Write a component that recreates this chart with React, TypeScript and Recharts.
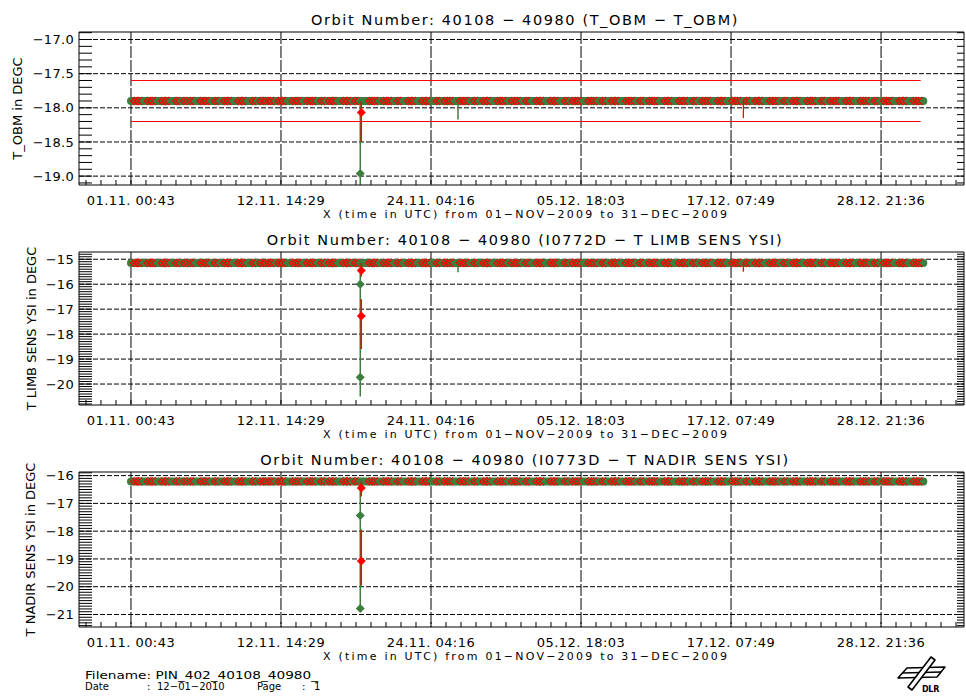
import React from "react";
import { ComposedChart, Line, XAxis, YAxis, CartesianGrid, ReferenceLine } from "recharts";

const FONT = "'DejaVu Sans', sans-serif";
const GREEN = "#3d7d3d";
const RED = "#ff0000";

const CHART_W = 966;
const PLOT_LEFT = 79;
const PLOT_RIGHT = CHART_W - 2;

// time axis in days since 01.11.2009 00:00 UTC
const timeTicks = [0.03, 11.6035, 23.178, 34.7521, 46.326, 57.9];
const timeLabels = ["01.11. 00:43", "12.11. 14:29", "24.11. 04:16", "05.12. 18:03", "17.12. 07:49", "28.12. 21:36"];
const timeDomain: [number, number] = [-3.98, 64.3];
const xTitle = "X (time in UTC) from 01\u2212NOV\u22122009 to 31\u2212DEC\u22122009";

const bandSpan = [0.03, 61.16];
const limitSpan = [0.03, 60.96];
const spikeDay = 17.72;
const greenDipDay = 25.26;
const redDipDay = 47.28;

// orbits flagged in red along the band
const redMarkDays = [
  0.15, 0.5, 1.2, 1.55, 2.3, 2.6, 3.4, 4.0, 4.5, 5.3, 5.7, 6.4, 7.1, 7.4, 8.2, 8.5, 9.3, 9.9,
  10.3, 10.7, 11.3, 11.6, 12.4, 12.8, 13.5, 13.9, 14.6, 15.2, 15.5, 16.3, 16.6, 17.2, 18.3,
  18.7, 19.4, 19.8, 20.5, 21.3, 21.6, 22.4, 22.7, 23.5, 24.1, 24.5, 25.3, 25.7, 26.4, 27.1,
  27.4, 28.2, 28.6, 29.3, 29.7, 30.4, 31.2, 31.5, 32.3, 32.6, 33.4, 34.0, 34.4, 35.2, 35.6,
  36.3, 37.0, 37.3, 38.1, 38.5, 39.2, 39.9, 40.3, 41.1, 41.4, 42.2, 42.6, 43.3, 44.0, 44.4,
  45.2, 45.5, 46.3, 46.7, 47.4, 48.1, 48.4, 49.2, 49.6, 50.3, 51.0, 51.3, 52.1, 52.5, 53.2,
  53.9, 54.3, 55.1, 55.4, 56.2, 56.6, 57.3, 58.0, 58.4, 59.2, 59.5, 60.3, 60.7,
];

// T_OBM
const obmBand = -17.9;
const obmLimits = [-17.6, -18.2];
const obmGreenSpike = [-17.9, -18.96, -19.4];
const obmGreenDots = [-18.96];
const obmRedSpike = [[-17.9, -18.5]];
const obmRedDots = [-18.07];
const obmDips = [-18.17, -18.15];

// I0772D - T LIMB SENS YSI
const limbBand = -15.15;
const limbGreenSpike = [-15.15, -16.0, -19.73, -20.5];
const limbGreenDots = [-16.0, -19.73];
const limbRedSpike = [[-15.15, -15.7], [-16.6, -17.27, -18.6]];
const limbRedDots = [-15.45, -17.27];
const limbDips = [-15.52, -15.5];

// I0773D - T NADIR SENS YSI
const nadirBand = -16.21;
const nadirGreenSpike = [-16.21, -17.44, -20.78];
const nadirGreenDots = [-17.44, -20.78];
const nadirRedSpike = [[-16.21, -16.75], [-17.94, -19.07, -19.96]];
const nadirRedDots = [-16.45, -19.07];

type PanelCfg = {
  id: string;
  top: number;
  height: number;
  title: string;
  yTitle: string;
  yTitleX: number;
  yDomain: [number, number];
  yTicks: number[];
  yDecimals: number;
  band: number;
  limits: number[];
  greenSpike: number[];
  greenDots: number[];
  redSpike: number[][];
  redDots: number[];
  dips: number[];
};

const panels: PanelCfg[] = [
  {
    id: "obm", top: 32, height: 153,
    title: "Orbit Number: 40108 \u2212 40980 (T_OBM \u2212 T_OBM)",
    yTitle: "T_OBM in DEGC", yTitleX: 17,
    yDomain: [-19.13, -16.89], yTicks: [-19.0, -18.5, -18.0, -17.5, -17.0], yDecimals: 1,
    band: obmBand, limits: obmLimits, greenSpike: obmGreenSpike, greenDots: obmGreenDots,
    redSpike: obmRedSpike, redDots: obmRedDots, dips: obmDips,
  },
  {
    id: "limb", top: 252, height: 153,
    title: "Orbit Number: 40108 \u2212 40980 (I0772D \u2212 T LIMB SENS YSI)",
    yTitle: "T LIMB SENS YSI in DEGC", yTitleX: 31,
    yDomain: [-20.84, -14.71], yTicks: [-20, -19, -18, -17, -16, -15], yDecimals: 0,
    band: limbBand, limits: [], greenSpike: limbGreenSpike, greenDots: limbGreenDots,
    redSpike: limbRedSpike, redDots: limbRedDots, dips: limbDips,
  },
  {
    id: "nadir", top: 472, height: 155,
    title: "Orbit Number: 40108 \u2212 40980 (I0773D \u2212 T NADIR SENS YSI)",
    yTitle: "T NADIR SENS YSI in DEGC", yTitleX: 30,
    yDomain: [-21.45, -15.87], yTicks: [-21, -20, -19, -18, -17, -16], yDecimals: 0,
    band: nadirBand, limits: [], greenSpike: nadirGreenSpike, greenDots: nadirGreenDots,
    redSpike: nadirRedSpike, redDots: nadirRedDots, dips: [],
  },
];

// ten minor intervals per labelled time step
const minorStep = (timeTicks[1] - timeTicks[0]) / 10;
const minorTimeTicks: number[] = [];
for (let k = -3; timeTicks[0] + k * minorStep < timeDomain[1]; k++) {
  minorTimeTicks.push(timeTicks[0] + k * minorStep);
}

function minorValueTicks([lo, hi]: [number, number]) {
  const out: number[] = [];
  for (let k = Math.ceil(lo * 10); k <= Math.floor(hi * 10); k++) out.push(k / 10);
  return out;
}

const near = (a: number, b: number) => Math.abs(a - b) < 0.01;
const minus = (s: string) => s.replace("-", "\u2212");
const noLabel = () => <g />;

function diamond(color: string, r: number) {
  return (props: any) => {
    const { cx, cy, index } = props;
    if (cx == null || cy == null) return <g key={index} />;
    return (
      <path key={index} d={`M${cx},${cy - r}L${cx + r},${cy}L${cx},${cy + r}L${cx - r},${cy}Z`} fill={color} />
    );
  };
}

// double "<" marks drawn over the green band
function chevron(props: any) {
  const { cx, cy, index } = props;
  if (cx == null || cy == null) return <g key={index} />;
  return (
    <path key={index}
      d={`M${cx + 2},${cy - 4}L${cx - 2},${cy}L${cx + 2},${cy + 4}M${cx + 5},${cy - 4}L${cx + 1},${cy}L${cx + 5},${cy + 4}`}
      stroke={RED} strokeWidth={1.2} fill="none" />
  );
}

const at = (day: number, vals: number[]) => vals.map((v) => ({ d: day, v }));

function Panel({ cfg }: { cfg: PanelCfg }) {
  const axisIds = { xAxisId: "main", yAxisId: "main" };
  const common = { ...axisIds, dataKey: "v", isAnimationActive: false, activeDot: false as const };
  const timeLabel = (v: number) => {
    const i = timeTicks.findIndex((t) => near(t, v));
    return i >= 0 ? timeLabels[i] : "";
  };
  const valueLabel = (v: number) => minus(v.toFixed(cfg.yDecimals));
  return (
    <div style={{ position: "absolute", left: 0, top: cfg.top - 4 }}>
      <ComposedChart width={CHART_W} height={cfg.height + 34} margin={{ top: 3, right: 0, bottom: 0, left: 0 }}>
        <CartesianGrid {...axisIds} horizontal={false} verticalValues={timeTicks}
          stroke="#000" strokeDasharray="12 2" />
        <CartesianGrid {...axisIds} vertical={false} horizontalValues={cfg.yTicks}
          stroke="#000" strokeDasharray="5 2" />
        <XAxis xAxisId="main" dataKey="d" type="number" domain={timeDomain} allowDataOverflow
          ticks={minorTimeTicks} interval={0} tickFormatter={timeLabel}
          tickLine={{ stroke: "#000" }} tickSize={-5} tickMargin={16} height={30} axisLine={{ stroke: "#000" }}
          tick={{ fill: "#000", fontSize: 13, fontFamily: FONT, letterSpacing: 0.45 } as any} />
        <XAxis xAxisId="top" orientation="top" type="number" domain={timeDomain}
          allowDataOverflow ticks={minorTimeTicks} interval={0} tick={noLabel} tickSize={-5}
          tickLine={{ stroke: "#000" }} axisLine={{ stroke: "#000" }} height={1} />
        <YAxis yAxisId="main" type="number" domain={cfg.yDomain} allowDataOverflow ticks={cfg.yTicks}
          interval={0} width={PLOT_LEFT} tickLine={false} tickSize={0} tickMargin={5}
          tickFormatter={valueLabel} axisLine={{ stroke: "#000" }}
          tick={{ fill: "#000", fontSize: 13, fontFamily: FONT, letterSpacing: 0.3 } as any} />
        <YAxis yAxisId="right" orientation="right" type="number" domain={cfg.yDomain}
          allowDataOverflow ticks={cfg.yTicks} interval={0} tick={noLabel} tickLine={false}
          axisLine={{ stroke: "#000" }} width={CHART_W - PLOT_RIGHT} />

        <Line key="band" id={`${cfg.id}-band`} {...common} data={bandSpan.map((d) => ({ d, v: cfg.band }))}
          stroke={GREEN} strokeWidth={8} strokeLinecap="round" dot={false} />
        <Line key="gspike" id={`${cfg.id}-gspike`} {...common} data={at(spikeDay, cfg.greenSpike)}
          stroke={GREEN} strokeWidth={1.5} dot={false} />
        {cfg.dips.length > 0 && (
          <Line key="gdip" id={`${cfg.id}-gdip`} {...common} data={at(greenDipDay, [cfg.band, cfg.dips[0]])}
            stroke={GREEN} strokeWidth={1.5} dot={false} />
        )}
        {cfg.dips.length > 1 && (
          <Line key="rdip" id={`${cfg.id}-rdip`} {...common} data={at(redDipDay, [cfg.band, cfg.dips[1]])}
            stroke={RED} strokeWidth={1.3} dot={false} />
        )}
        <Line key="marks" id={`${cfg.id}-marks`} {...common} data={redMarkDays.map((d) => ({ d, v: cfg.band }))}
          stroke="none" dot={chevron} />
        {cfg.redSpike.map((seg, i) => (
          <Line key={`rspike${i}`} id={`${cfg.id}-rspike${i}`} {...common} data={at(spikeDay + 0.08, seg)}
            stroke={RED} strokeWidth={1.5} dot={false} />
        ))}
        <Line key="gdots" id={`${cfg.id}-gdots`} {...common} data={at(spikeDay, cfg.greenDots)}
          stroke="none" dot={diamond(GREEN, 4.5)} />
        <Line key="rdots" id={`${cfg.id}-rdots`} {...common} data={at(spikeDay + 0.08, cfg.redDots)}
          stroke="none" dot={diamond(RED, 4.5)} />
        {cfg.limits.map((v, i) => (
          <ReferenceLine key={`lim${i}`} {...axisIds}
            segment={[{ x: limitSpan[0], y: v }, { x: limitSpan[1], y: v }]}
            stroke={RED} strokeWidth={1.2} ifOverflow="visible" />
        ))}
      </ComposedChart>
    </div>
  );
}

// inward minor y ticks every 0.1 DEGC: 13 px on the left frame, 7 px on the right
function MinorYTicks({ p }: { p: PanelCfg }) {
  const [lo, hi] = p.yDomain;
  const toY = (v: number) => p.top + ((hi - v) / (hi - lo)) * p.height;
  return (
    <g stroke="#000" strokeWidth={1}>
      {minorValueTicks(p.yDomain).map((v) => (
        <g key={v}>
          <line x1={PLOT_LEFT} x2={PLOT_LEFT + 13} y1={toY(v)} y2={toY(v)} />
          <line x1={PLOT_RIGHT - 7} x2={PLOT_RIGHT} y1={toY(v)} y2={toY(v)} />
        </g>
      ))}
    </g>
  );
}

function Labels() {
  return (
    <svg width={CHART_W} height={698} style={{ position: "absolute", left: 0, top: 0 }} fontFamily={FONT}>
      {panels.map((p, i) => (
        <g key={i} fill="#000">
          <MinorYTicks p={p} />
          <text x={525} y={p.top - 7} textAnchor="middle" fontSize={14.5} letterSpacing={1.6}>{p.title}</text>
          <text x={525} y={p.top + p.height + 33} textAnchor="middle" fontSize={11}
            textLength={404} lengthAdjust="spacing">{xTitle}</text>
          <text transform={`translate(${p.yTitleX},${p.top + p.height / 2}) rotate(-90)`}
            textAnchor="middle" dominantBaseline="central" fontSize={13}>{p.yTitle}</text>
        </g>
      ))}
      <text x={85} y={679} fontSize={10} textLength={233} lengthAdjust="spacingAndGlyphs">
        Filename: PIN_402_40108_40980_
      </text>
      <text y={690} fontSize={10}>
        <tspan x={85}>Date</tspan>
        <tspan x={147}>:</tspan>
        <tspan x={157}>12{"\u2212"}01{"\u2212"}2010</tspan>
        <tspan x={257}>Page</tspan>
        <tspan x={302}>:</tspan>
        <tspan x={314}>1</tspan>
      </text>
      <g stroke="#000" strokeWidth={1.6} fill="#fff" strokeLinejoin="round">
        <path d="M898,678 L907,668 L945,667 L937,677 Z" />
        <path d="M902.5,673 L941,672" />
        <path d="M931,657 L935,660 L912,690 L908,687 Z" />
      </g>
      <text x={922} y={692} fontSize={8} fontWeight="bold" letterSpacing={-0.3}>DLR</text>
    </svg>
  );
}

export default function App() {
  return (
    <div style={{ position: "absolute", left: 0, top: 0, width: CHART_W, height: 698, background: "#fff", overflow: "hidden" }}>
      {panels.map((p, i) => (
        <Panel key={i} cfg={p} />
      ))}
      <Labels />
    </div>
  );
}
